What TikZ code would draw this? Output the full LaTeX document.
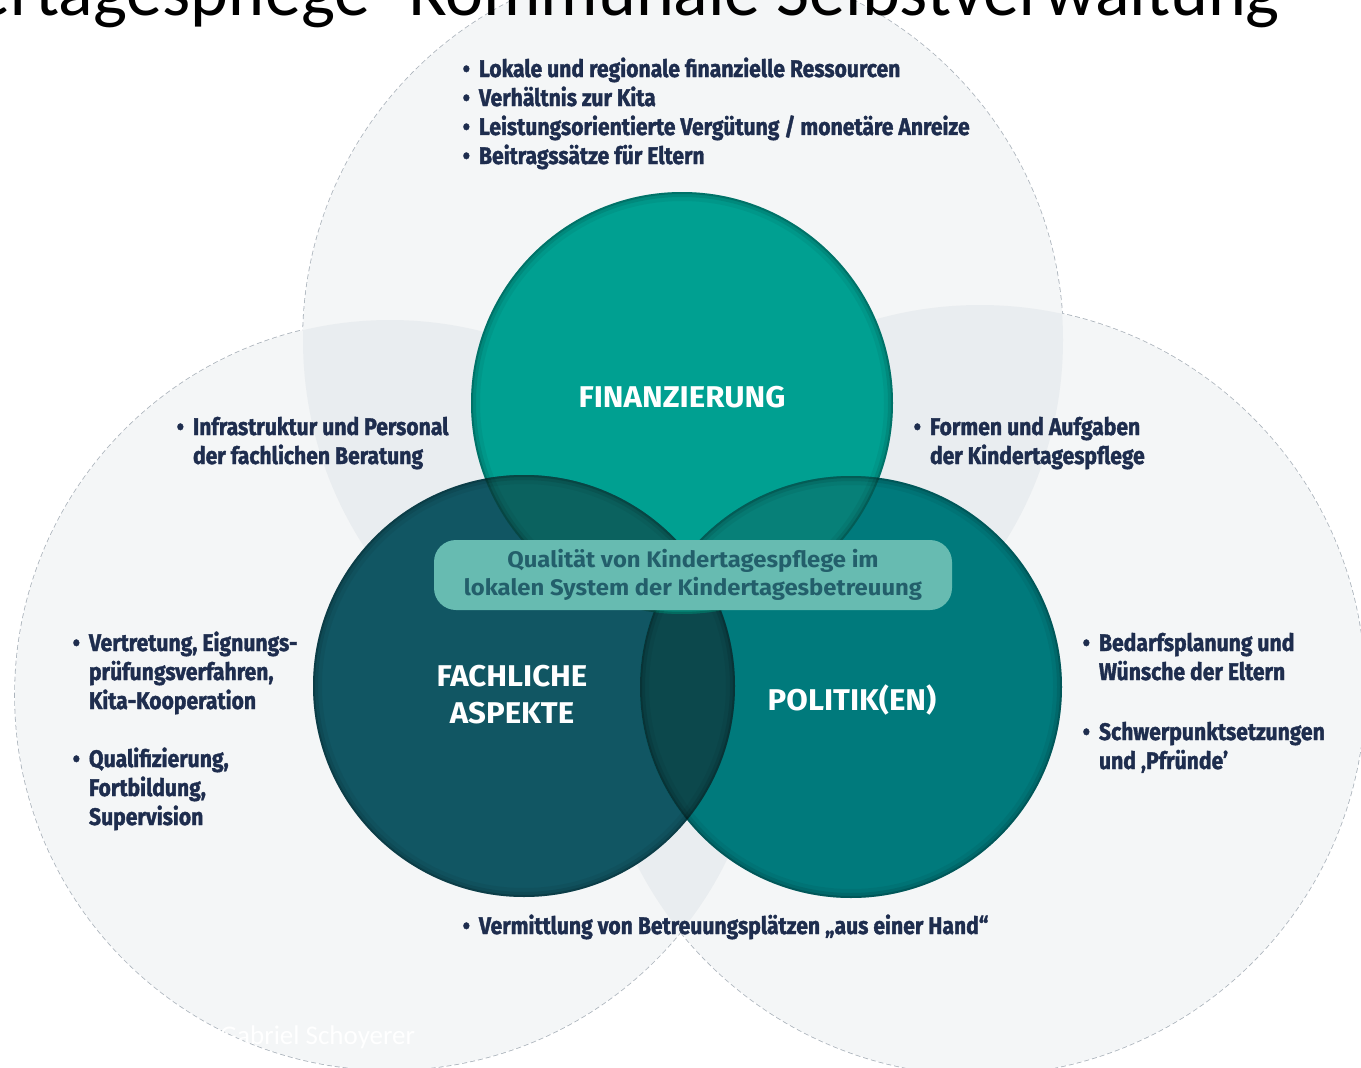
\documentclass[tikz,border=0pt]{standalone}
\usepackage{fontspec}
\setmainfont{Fira Sans}
\newfontfamily\condfont[FakeStretch=0.88,BoldFeatures={FakeBold=1.5}]{Fira Sans}
\newfontfamily\labelfont[FakeStretch=1.04]{Fira Sans}
\newfontfamily\bannerfont[FakeStretch=1.06]{Fira Sans}
\newfontfamily\titlefont{Carlito}
\usetikzlibrary{positioning}

\definecolor{navy}{RGB}{30,45,78}
\definecolor{rimgray}{RGB}{172,180,188}
\definecolor{tintslate}{RGB}{46,80,110}
\definecolor{fintop}{RGB}{0,160,145}
\definecolor{fachdark}{RGB}{17,86,99}
\definecolor{polteal}{RGB}{0,122,124}
\definecolor{finfach}{RGB}{11,98,95}
\definecolor{finpol}{RGB}{7,128,120}
\definecolor{fachpol}{RGB}{12,72,76}
\definecolor{alldrei}{RGB}{7,149,134}
\definecolor{bannerfill}{RGB}{103,187,177}
\definecolor{bannertext}{RGB}{35,95,107}

% bullet list with hanging lines
\newcommand{\punkte}[1]{\begin{tabular}[t]{@{}l@{\hspace{9pt}}l@{}}#1\end{tabular}}

\begin{document}
\begin{tikzpicture}[x=1pt,y=-1pt,
    rim/.style={draw=rimgray,line width=1.6pt,dash pattern=on 5pt off 3pt},
    tint/.style={fill=tintslate,fill opacity=0.05},
    schatten/.style={draw=black,draw opacity=#1},
    stichpunkte/.style={anchor=base west,inner sep=0pt,text=navy,
      font=\condfont\bfseries\fontsize{24}{29}\selectfont},
    kreistext/.style={align=center,inner sep=0pt,text=white,
      font=\labelfont\bfseries\fontsize{30}{37}\selectfont}]
  \useasboundingbox (0,0) rectangle (1361,1068);
  \clip (0,0) rectangle (1361,1068);
  \fill[white] (0,0) rectangle (1361,1068);

  % outer light circles
  \coordinate (rahmenoben) at (683,340);
  \coordinate (rahmenlinks) at (390,695);
  \coordinate (rahmenrechts) at (980,690);
  \draw[rim] (rahmenoben) circle[radius=380pt];
  \draw[rim] (rahmenlinks) circle[radius=375pt];
  \draw[rim] (rahmenrechts) circle[radius=385pt];
  \fill[white] (rahmenoben) circle[radius=380pt];
  \fill[white] (rahmenlinks) circle[radius=375pt];
  \fill[white] (rahmenrechts) circle[radius=385pt];
  \fill[tint] (rahmenoben) circle[radius=380pt];
  \fill[tint] (rahmenlinks) circle[radius=375pt];
  \fill[tint] (rahmenrechts) circle[radius=385pt];

  % inner circles
  \coordinate (fin) at (682,403);
  \coordinate (fach) at (524,686);
  \coordinate (pol) at (851,687);
  \fill[fintop] (fin) circle[radius=211pt];
  \fill[fachdark] (fach) circle[radius=211pt];
  \fill[polteal] (pol) circle[radius=211pt];
  \begin{scope}
    \clip (fin) circle[radius=211pt];
    \fill[finfach] (fach) circle[radius=211pt];
    \fill[finpol] (pol) circle[radius=211pt];
  \end{scope}
  \begin{scope}
    \clip (fach) circle[radius=211pt];
    \fill[fachpol] (pol) circle[radius=211pt];
    \clip (pol) circle[radius=211pt];
    \fill[alldrei] (fin) circle[radius=211pt];
  \end{scope}
  % soft dark rims
  \foreach \mitte in {fin,fach,pol} {
    \draw[schatten=0.16,line width=2pt] (\mitte) circle[radius=210pt];
    \draw[schatten=0.09,line width=5pt] (\mitte) circle[radius=208.5pt];
    \draw[schatten=0.05,line width=9pt] (\mitte) circle[radius=206.5pt];
  }

  % centre banner
  \fill[bannerfill,rounded corners=22pt] (434,540) rectangle (952,610);
  \node[align=center,inner sep=0pt,text=bannertext,
    font=\bannerfont\bfseries\fontsize{22.5}{28}\selectfont] (qualitaet) at (693,575)
    {Qualität von Kindertagespflege im\\lokalen System der Kindertagesbetreuung};

  % circle labels
  \node[kreistext] (finanzierung) at (682,397) {FINANZIERUNG};
  \node[kreistext] (fachlich) at (512,695) {FACHLICHE\\ASPEKTE};
  \node[kreistext] (politik) at (852,700) {POLITIK(EN)};

  % bullet texts
  \node[stichpunkte] (ressourcen) at (462.5,77) {\punkte{%
    • & Lokale und regionale finanzielle Ressourcen\\
    • & Verhältnis zur Kita\\
    • & Leistungsorientierte Vergütung / monetäre Anreize\\
    • & Beitragssätze für Eltern}};
  \node[stichpunkte] (infrastruktur) at (176.5,435) {\punkte{%
    • & Infrastruktur und Personal\\
      & der fachlichen Beratung}};
  \node[stichpunkte] (formen) at (913.5,435) {\punkte{%
    • & Formen und Aufgaben\\
      & der Kindertagespflege}};
  \node[stichpunkte] (vertretung) at (72.5,651) {\punkte{%
    • & Vertretung, Eignungs-\\
      & prüfungsverfahren,\\
      & Kita-Kooperation\\[29pt]
    • & Qualifizierung,\\
      & Fortbildung,\\
      & Supervision}};
  \node[stichpunkte] (bedarf) at (1082.5,651) {\punkte{%
    • & Bedarfsplanung und\\
      & Wünsche der Eltern\\[31pt]
    • & Schwerpunktsetzungen\\
      & und ‚Pfründe’}};
  \node[stichpunkte] (vermittlung) at (462.5,934) {\punkte{%
    • & Vermittlung von Betreuungsplätzen „aus einer Hand“}};

  % title and credit
  \node[anchor=base east,inner sep=0pt,font=\titlefont\fontsize{72}{72}\selectfont]
    (titel) at (1280,16) {Kindertagespflege- Kommunale Selbstverwaltung};
  \node[anchor=base west,inner sep=0pt,text=white,
    font=\titlefont\fontsize{27}{27}\selectfont] (autor) at (220,1044) {Gabriel Schoyerer};
\end{tikzpicture}
\end{document}
